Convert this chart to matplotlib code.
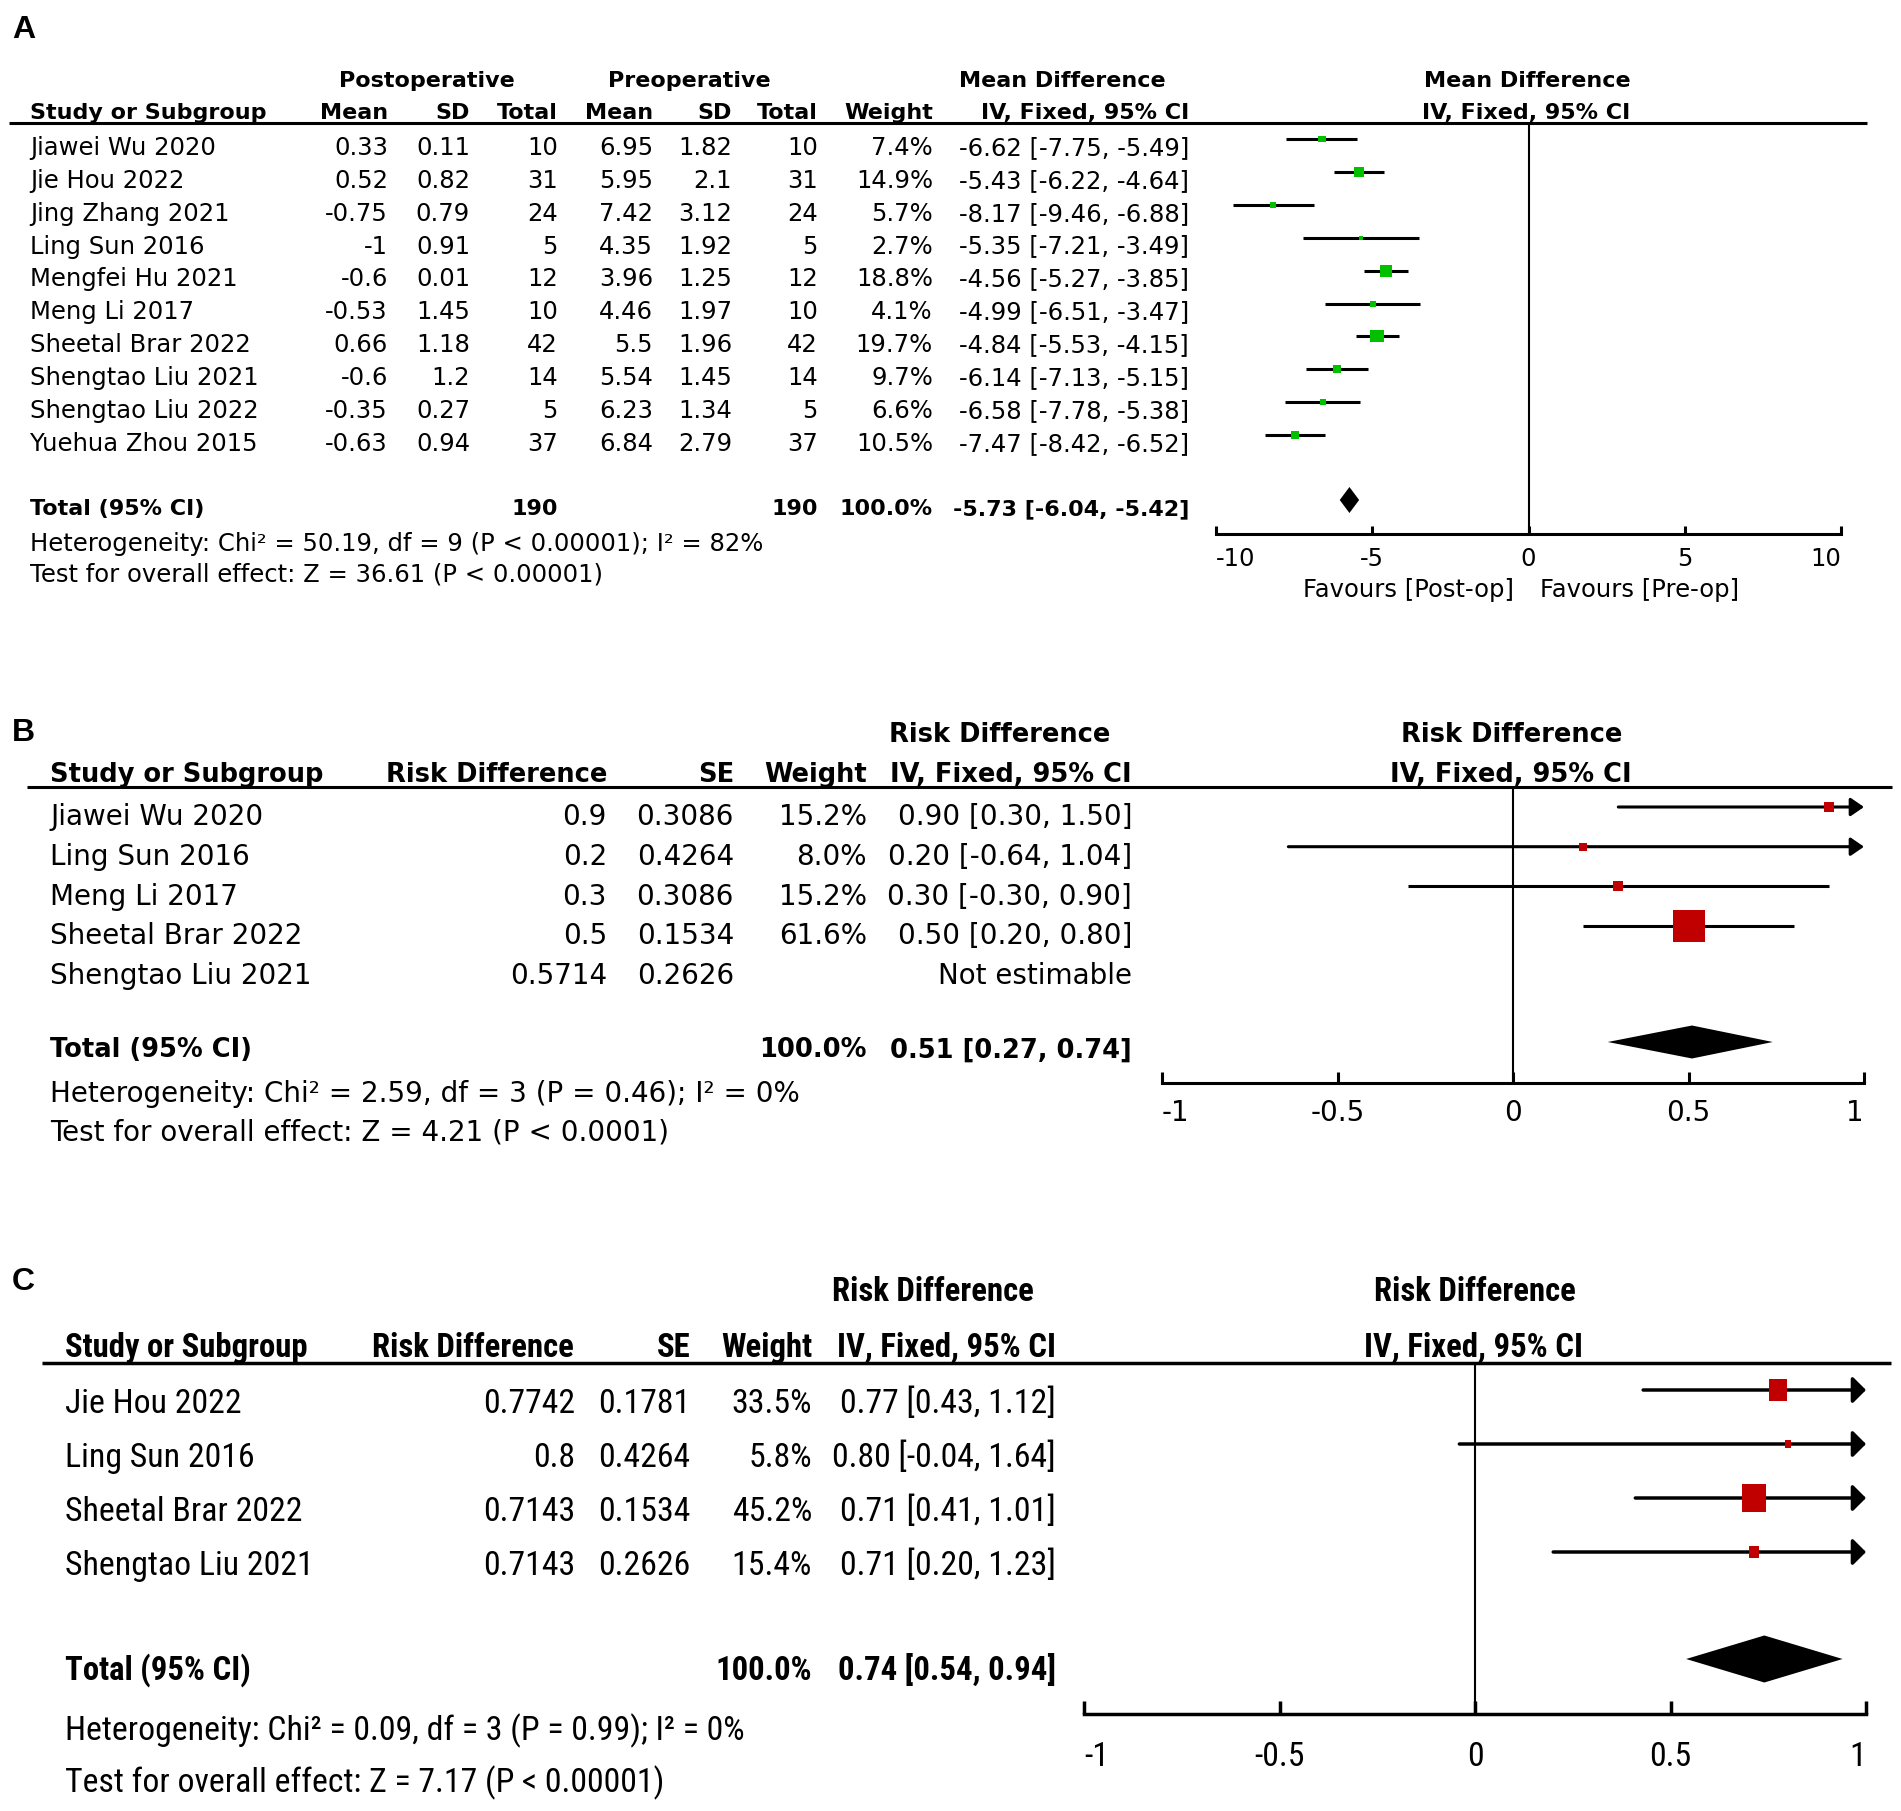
import matplotlib
matplotlib.use('Agg')
import matplotlib.pyplot as plt
from matplotlib import font_manager
from matplotlib.font_manager import FontProperties
from matplotlib.textpath import TextPath

# ---- data, panel A (mean difference, post vs pre) ----
studies_a = ['Jiawei Wu 2020', 'Jie Hou 2022', 'Jing Zhang 2021', 'Ling Sun 2016', 'Mengfei Hu 2021',
             'Meng Li 2017', 'Sheetal Brar 2022', 'Shengtao Liu 2021', 'Shengtao Liu 2022', 'Yuehua Zhou 2015']
post_mean = [0.33, 0.52, -0.75, -1, -0.6, -0.53, 0.66, -0.6, -0.35, -0.63]
post_sd = [0.11, 0.82, 0.79, 0.91, 0.01, 1.45, 1.18, 1.2, 0.27, 0.94]
post_n = [10, 31, 24, 5, 12, 10, 42, 14, 5, 37]
pre_mean = [6.95, 5.95, 7.42, 4.35, 3.96, 4.46, 5.5, 5.54, 6.23, 6.84]
pre_sd = [1.82, 2.1, 3.12, 1.92, 1.25, 1.97, 1.96, 1.45, 1.34, 2.79]
pre_n = [10, 31, 24, 5, 12, 10, 42, 14, 5, 37]
weight_a = [7.4, 14.9, 5.7, 2.7, 18.8, 4.1, 19.7, 9.7, 6.6, 10.5]
md_a = [-6.62, -5.43, -8.17, -5.35, -4.56, -4.99, -4.84, -6.14, -6.58, -7.47]
lo_a = [-7.75, -6.22, -9.46, -7.21, -5.27, -6.51, -5.53, -7.13, -7.78, -8.42]
hi_a = [-5.49, -4.64, -6.88, -3.49, -3.85, -3.47, -4.15, -5.15, -5.38, -6.52]
total_a = [-5.73, -6.04, -5.42]
total_n_a = [190, 190]
het_a = 'Heterogeneity: Chi² = 50.19, df = 9 (P < 0.00001); I² = 82%'
test_a = 'Test for overall effect: Z = 36.61 (P < 0.00001)'
ticks_a = [-10, -5, 0, 5, 10]

# ---- data, panel B ----
studies_b = ['Jiawei Wu 2020', 'Ling Sun 2016', 'Meng Li 2017', 'Sheetal Brar 2022', 'Shengtao Liu 2021']
rd_b = [0.9, 0.2, 0.3, 0.5, 0.5714]
se_b = [0.3086, 0.4264, 0.3086, 0.1534, 0.2626]
weight_b = [15.2, 8.0, 15.2, 61.6, None]
lo_b = [0.30, -0.64, -0.30, 0.20, None]
hi_b = [1.50, 1.04, 0.90, 0.80, None]
total_b = [0.51, 0.27, 0.74]
het_b = 'Heterogeneity: Chi² = 2.59, df = 3 (P = 0.46); I² = 0%'
test_b = 'Test for overall effect: Z = 4.21 (P < 0.0001)'
ticks_rd = [-1, -0.5, 0, 0.5, 1]

# ---- data, panel C ----
studies_c = ['Jie Hou 2022', 'Ling Sun 2016', 'Sheetal Brar 2022', 'Shengtao Liu 2021']
rd_c = [0.7742, 0.8, 0.7143, 0.7143]
se_c = [0.1781, 0.4264, 0.1534, 0.2626]
weight_c = [33.5, 5.8, 45.2, 15.4]
lo_c = [0.43, -0.04, 0.41, 0.20]
hi_c = [1.12, 1.64, 1.01, 1.23]
total_c = [0.74, 0.54, 0.94]
het_c = 'Heterogeneity: Chi² = 0.09, df = 3 (P = 0.99); I² = 0%'
test_c = 'Test for overall effect: Z = 7.17 (P < 0.00001)'

W, H = 1901, 1811
GREEN = '#00C000'
RED = '#C00000'

fig = plt.figure(figsize=(W / 100, H / 100), dpi=100, facecolor='white')
bg = fig.add_axes([0, 0, 1, 1])
bg.set_xlim(0, W)
bg.set_ylim(H, 0)
bg.axis('off')
renderer = fig.canvas.get_renderer()


def wnum(f):
    return f.weight if isinstance(f.weight, int) else font_manager.weight_dict.get(f.weight, 400)


# panel C of the reference is a narrow face: look for one that is installed
def find_narrow():
    prefs = ['Liberation Sans Narrow', 'Noto Sans', 'Noto Sans Condensed', 'Roboto Condensed',
             'Open Sans Condensed', 'DejaVu Sans']
    cands = [f for f in font_manager.fontManager.ttflist
             if f.stretch in ('condensed', 'semi-condensed') or 'Narrow' in f.name or 'Condensed' in f.name]
    cands = [f for f in cands if f.style == 'normal' and 'Extra' not in f.fname and 'Ultra' not in f.fname]
    for p in prefs:
        fam = [f for f in cands if f.name == p]
        reg = [f for f in fam if wnum(f) == 400]
        bold = [f for f in fam if wnum(f) == 700]
        if reg:
            reg.sort(key=lambda f: 0 if f.stretch == 'condensed' else 1)
            bold.sort(key=lambda f: 0 if f.stretch == 'condensed' else 1)
            return FontProperties(fname=reg[0].fname), FontProperties(fname=(bold or reg)[0].fname)
    return FontProperties(family='Liberation Sans'), FontProperties(family='Liberation Sans', weight='bold')


def text_width(fp, s, size):
    p = fp.copy()
    p.set_size(size)
    t = bg.text(0, 0, s, fontproperties=p)
    w = t.get_window_extent(renderer).width
    t.remove()
    return w


def glyph_h(fp, s):
    return TextPath((0, 0), s, size=100, prop=fp).get_extents().ymax / 100


def make_font(reg, bold, size, bsize):
    r, b = reg.copy(), bold.copy()
    r.set_size(size)
    b.set_size(bsize)
    return {'r': r, 'b': b, 'cap_r': glyph_h(reg, 'H') * size * 100 / 72,
            'cap_b': glyph_h(bold, 'H') * bsize * 100 / 72, 'l': glyph_h(reg, 'l') * size * 100 / 72}


FA = make_font(FontProperties(family='DejaVu Sans'), FontProperties(family='DejaVu Sans', weight='bold'), 17.5, 16)
FB = make_font(FontProperties(family='DejaVu Sans'), FontProperties(family='DejaVu Sans', weight='bold'), 20, 18.5)
nr, nb = find_narrow()
sc = 10 * 175 / text_width(nr, 'Jie Hou 2022', 10)
FC = make_font(nr, nb, sc, sc * 0.97)
LBL = FontProperties(family='Liberation Sans', weight='bold', size=23)


def put(x, y, s, F, bold=False, ha='left'):
    # y is the visual centre of the capitals, in pixels from the top
    cap = F['cap_b'] if bold else F['cap_r']
    bg.text(x, y + cap / 2, s, ha=ha, va='baseline', fontproperties=F['b'] if bold else F['r'], color='black')


def fmt(v):
    return f'{v:g}'


def ci_txt(e, l, h):
    return f'{e:.2f} [{l:.2f}, {h:.2f}]'


def forest(x0, x1, top, bottom, xlim, ticks, y0, dy, F, tick_len, lab_off, lw):
    ax = fig.add_axes([x0 / W, 1 - bottom / H, (x1 - x0) / W, (bottom - top) / H])
    ax.set_xlim(*xlim)
    ax.set_ylim((bottom - y0) / dy, (top - y0) / dy)
    ax.patch.set_alpha(0)
    for s in ['top', 'left', 'right']:
        ax.spines[s].set_visible(False)
    ax.spines['bottom'].set_linewidth(lw)
    ax.set_yticks([])
    ax.set_xticks(ticks, [fmt(t) for t in ticks], fontproperties=F['r'])
    labs = ax.get_xticklabels()
    labs[0].set_horizontalalignment('left')
    labs[-1].set_horizontalalignment('right')
    pad = lab_off - F['cap_r'] / 2 - (F['l'] - F['cap_r'])
    ax.tick_params(axis='x', direction='in', length=tick_len * 0.72, width=lw, pad=pad * 0.72)
    ax.axvline(0, color='black', lw=1.5, zorder=1)
    return ax


def boxes(ax, est, lo, hi, wts, color, aspect, scale, lw, head_w, xmax):
    for i, (e, l, h, w) in enumerate(zip(est, lo, hi, wts)):
        if w is None:
            continue
        if h > xmax:
            ax.annotate('', xy=(xmax, i), xytext=(l, i), annotation_clip=False,
                        arrowprops=dict(arrowstyle=f'-|>,head_length=0.8,head_width={head_w}',
                                        color='black', lw=lw, shrinkA=0, shrinkB=0, mutation_scale=10))
        else:
            ax.plot([l, h], [i, i], color='black', lw=lw, solid_capstyle='butt', zorder=2)
        side = (3.3 + 0.44 * w) * scale * 0.72
        vx, vy = (aspect / 2, 0.5) if aspect <= 1 else (0.5, 0.5 / aspect)
        mk = [(-vx, -vy), (vx, -vy), (vx, vy), (-vx, vy), (-vx, -vy)]
        ax.scatter([e], [i], marker=mk, s=side ** 2, color=color, linewidths=0, zorder=3, clip_on=False)


def diamond(ax, tot, ty, half):
    e, l, h = tot
    ax.fill([l, e, h, e], [ty, ty - half, ty, ty + half], color='black', lw=0, zorder=3)


def label(x, y, s):
    cap = glyph_h(LBL, 'H') * 23 * 100 / 72
    bg.text(x, y + cap / 2, s, ha='left', va='baseline', fontproperties=LBL)


# ================= Panel A =================
label(12, 27, 'A')
put(427, 79, 'Postoperative', FA, True, 'center')
put(689, 79, 'Preoperative', FA, True, 'center')
put(1062, 79, 'Mean Difference', FA, True, 'center')
put(1527, 79, 'Mean Difference', FA, True, 'center')
put(30, 111, 'Study or Subgroup', FA, True)
for x, s in [(388, 'Mean'), (470, 'SD'), (558, 'Total'), (653, 'Mean'), (732, 'SD'),
             (818, 'Total'), (933, 'Weight'), (1189, 'IV, Fixed, 95% CI')]:
    put(x, 111, s, FA, True, 'right')
put(1526, 111, 'IV, Fixed, 95% CI', FA, True, 'center')
bg.plot([9, 1867], [123, 123], color='black', lw=2.2, solid_capstyle='butt')

y0a, dya = 139, 32.9
for i, st in enumerate(studies_a):
    ty = y0a + i * dya + 7
    put(30, ty, st, FA)
    put(388, ty, fmt(post_mean[i]), FA, ha='right')
    put(470, ty, fmt(post_sd[i]), FA, ha='right')
    put(558, ty, str(post_n[i]), FA, ha='right')
    put(653, ty, fmt(pre_mean[i]), FA, ha='right')
    put(732, ty, fmt(pre_sd[i]), FA, ha='right')
    put(818, ty, str(pre_n[i]), FA, ha='right')
    put(933, ty, f'{weight_a[i]:.1f}%', FA, ha='right')
    put(1189, ty, ci_txt(md_a[i], lo_a[i], hi_a[i]), FA, ha='right')
put(30, 507, 'Total (95% CI)', FA, True)
put(558, 507, str(total_n_a[0]), FA, True, 'right')
put(818, 507, str(total_n_a[1]), FA, True, 'right')
put(933, 507, '100.0%', FA, True, 'right')
put(1189, 507, ci_txt(*total_a), FA, True, 'right')
put(30, 542, het_a, FA)
put(30, 573, test_a, FA)
put(1514, 588, 'Favours [Post-op]', FA, ha='right')
put(1540, 588, 'Favours [Pre-op]', FA)

axa = forest(1216, 1841, 123, 534, (-10, 10), ticks_a, y0a, dya, FA, 8, 23, 2.2)
boxes(axa, md_a, lo_a, hi_a, weight_a, GREEN, 1.1, 1.1, 2.2, 0.5, 10)
diamond(axa, total_a, (500 - y0a) / dya, 13 / dya)

# ================= Panel B =================
label(12, 730, 'B')
put(1000, 733, 'Risk Difference', FB, True, 'center')
put(1512, 733, 'Risk Difference', FB, True, 'center')
put(50, 773, 'Study or Subgroup', FB, True)
for x, s in [(607, 'Risk Difference'), (734, 'SE'), (867, 'Weight'), (1132, 'IV, Fixed, 95% CI')]:
    put(x, 773, s, FB, True, 'right')
put(1511, 773, 'IV, Fixed, 95% CI', FB, True, 'center')
bg.plot([27, 1892], [787, 787], color='black', lw=2.2, solid_capstyle='butt')

y0b, dyb = 807, 39.7
for i, st in enumerate(studies_b):
    ty = y0b + i * dyb + 8
    put(50, ty, st, FB)
    put(607, ty, fmt(rd_b[i]), FB, ha='right')
    put(734, ty, fmt(se_b[i]), FB, ha='right')
    if weight_b[i] is None:
        put(1132, ty, 'Not estimable', FB, ha='right')
    else:
        put(867, ty, f'{weight_b[i]:.1f}%', FB, ha='right')
        put(1132, ty, ci_txt(rd_b[i], lo_b[i], hi_b[i]), FB, ha='right')
put(50, 1048, 'Total (95% CI)', FB, True)
put(867, 1048, '100.0%', FB, True, 'right')
put(1132, 1048, ci_txt(*total_b), FB, True, 'right')
put(50, 1092, het_b, FB)
put(50, 1130, test_b, FB)

axb = forest(1162, 1864, 787, 1083, (-1, 1), ticks_rd, y0b, dyb, FB, 11, 27, 2.2)
boxes(axb, rd_b, lo_b, hi_b, weight_b, RED, 1.0, 1.05, 2.2, 0.55, 1)
diamond(axb, total_b, (1042 - y0b) / dyb, 16.5 / dyb)

# ================= Panel C =================
label(12, 1279, 'C')
put(933, 1289, 'Risk Difference', FC, True, 'center')
put(1475, 1289, 'Risk Difference', FC, True, 'center')
put(65, 1345, 'Study or Subgroup', FC, True)
for x, s in [(574, 'Risk Difference'), (691, 'SE'), (812, 'Weight'), (1056, 'IV, Fixed, 95% CI')]:
    put(x, 1345, s, FC, True, 'right')
put(1474, 1345, 'IV, Fixed, 95% CI', FC, True, 'center')
bg.plot([42, 1891], [1363, 1363], color='black', lw=2.5, solid_capstyle='butt')

y0c, dyc = 1390, 54
for i, st in enumerate(studies_c):
    ty = y0c + i * dyc + 11
    put(65, ty, st, FC)
    put(575, ty, fmt(rd_c[i]), FC, ha='right')
    put(690, ty, fmt(se_c[i]), FC, ha='right')
    put(812, ty, f'{weight_c[i]:.1f}%', FC, ha='right')
    put(1056, ty, ci_txt(rd_c[i], lo_c[i], hi_c[i]), FC, ha='right')
put(65, 1668, 'Total (95% CI)', FC, True)
put(812, 1668, '100.0%', FC, True, 'right')
put(1056, 1668, ci_txt(*total_c), FC, True, 'right')
put(65, 1728, het_c, FC)
put(65, 1780, test_c, FC)

axc = forest(1084, 1866, 1363, 1714, (-1, 1), ticks_rd, y0c, dyc, FC, 13, 40, 2.5)
boxes(axc, rd_c, lo_c, hi_c, weight_c, RED, 0.8, 1.25, 2.5, 0.8, 1)
diamond(axc, total_c, (1659 - y0c) / dyc, 23.5 / dyc)

fig.savefig('out.png', dpi=100, facecolor='white')
